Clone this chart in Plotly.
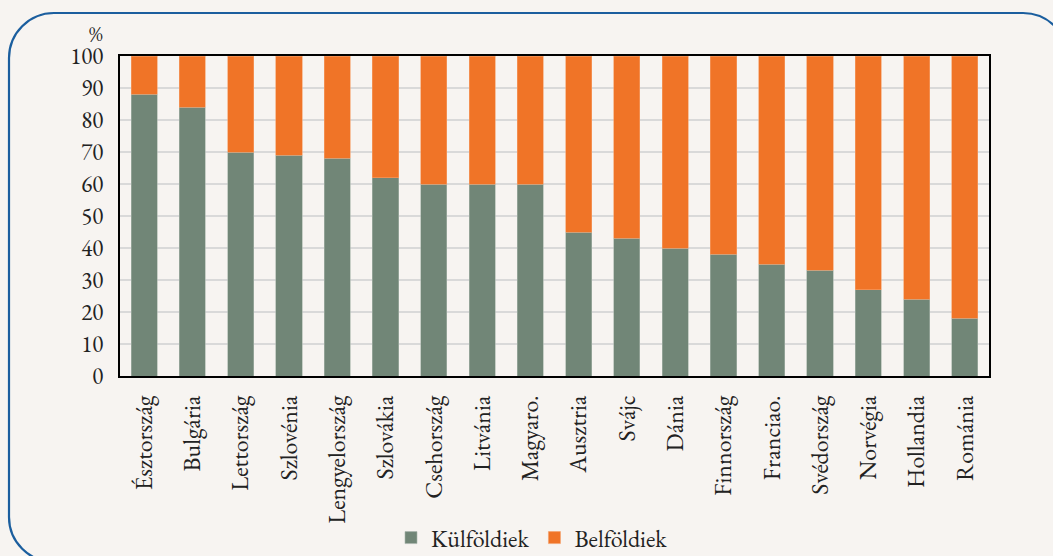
import plotly.graph_objects as go

countries = ["Észtország", "Bulgária", "Lettország", "Szlovénia", "Lengyelország",
             "Szlovákia", "Csehország", "Litvánia", "Magyaro.", "Ausztria", "Svájc",
             "Dánia", "Finnország", "Franciao.", "Svédország", "Norvégia",
             "Hollandia", "Románia"]
kulfoldiek = [88, 84, 70, 69, 68, 62, 60, 60, 60, 45, 43, 40, 38, 35, 33, 27, 24, 18]
belfoldiek = [100 - v for v in kulfoldiek]
y_ticks = [0, 10, 20, 30, 40, 50, 60, 70, 80, 90, 100]

W, H = 1053, 556
L, R, T, B = 120, 989, 56, 376
FONT = "Garamond, 'EB Garamond', 'Liberation Serif', 'Times New Roman', serif"
PAPER = "#f7f4f1"
BLUE = "#1b5e9e"


def px(x):
    return (x - L) / (R - L)


def py(y):
    return (B - y) / (B - T)


fig = go.Figure()
fig.add_trace(go.Bar(x=countries, y=kulfoldiek, name="Külföldiek",
                     marker=dict(color="#718677", line=dict(color="#a9b5ac", width=0.6))))
fig.add_trace(go.Bar(x=countries, y=belfoldiek, name="Belföldiek",
                     marker=dict(color="#f07427", line=dict(color="#f5a06a", width=0.6))))

# rounded frame (pixel coords -> paper coords)
r = 45
k = 0.5523 * r
xl, yt, xr = 9, 13, 1068
yb_start = 517
path_top = (f"M{px(xl):.5f},{py(yb_start):.5f} L{px(xl):.5f},{py(yt + r):.5f} "
            f"C{px(xl):.5f},{py(yt + r - k):.5f} {px(xl + r - k):.5f},{py(yt):.5f} {px(xl + r):.5f},{py(yt):.5f} "
            f"L{px(xr - r):.5f},{py(yt):.5f} "
            f"C{px(xr - r + k):.5f},{py(yt):.5f} {px(xr):.5f},{py(yt + r - k):.5f} {px(xr):.5f},{py(yt + r):.5f}")
path_bl = (f"M{px(xl):.5f},{py(yb_start):.5f} "
           f"C{px(xl):.5f},{py(yb_start + k):.5f} {px(xl + r - k):.5f},{py(yb_start + r):.5f} "
           f"{px(xl + r):.5f},{py(yb_start + r):.5f}")

fig.add_shape(type="path", xref="paper", yref="paper", path=path_top,
              line=dict(color=BLUE, width=2.2), layer="below")
fig.add_shape(type="path", xref="paper", yref="paper", path=path_bl,
              line=dict(color=BLUE, width=2.2), layer="below")

fig.add_annotation(text="%", xref="paper", yref="paper", x=px(96), y=py(33),
                   showarrow=False, font=dict(family=FONT, size=21, color="#222"),
                   xanchor="center", yanchor="middle")

fig.update_layout(
    width=W, height=H,
    barmode="stack", bargap=0.46,
    paper_bgcolor=PAPER, plot_bgcolor=PAPER,
    margin=dict(l=L, r=W - R, t=T, b=H - B, autoexpand=False),
    font=dict(family=FONT, size=23, color="#222"),
    showlegend=True,
    legend=dict(orientation="h", x=px(532), y=py(538), xanchor="center", yanchor="middle",
                font=dict(family=FONT, size=24, color="#222"),
                bgcolor="rgba(0,0,0,0)", itemwidth=30, traceorder="normal"),
    xaxis=dict(tickangle=-90, showline=True, linecolor="black", linewidth=2, mirror=True,
               ticks="", ticklabelstandoff=8, tickfont=dict(family=FONT, size=24, color="#222"),
               showgrid=False),
    yaxis=dict(range=[0, 100], tickvals=y_ticks, showline=True, linecolor="black",
               linewidth=2, mirror=True, ticks="", ticklabelstandoff=10,
               gridcolor="#d9d9d9", gridwidth=1.5,
               tickfont=dict(family=FONT, size=23, color="#222"), zeroline=False),
)

fig.write_html("out.html", config={"displayModeBar": False},
               post_script="document.body.style.margin='0';document.body.style.padding='0';")
